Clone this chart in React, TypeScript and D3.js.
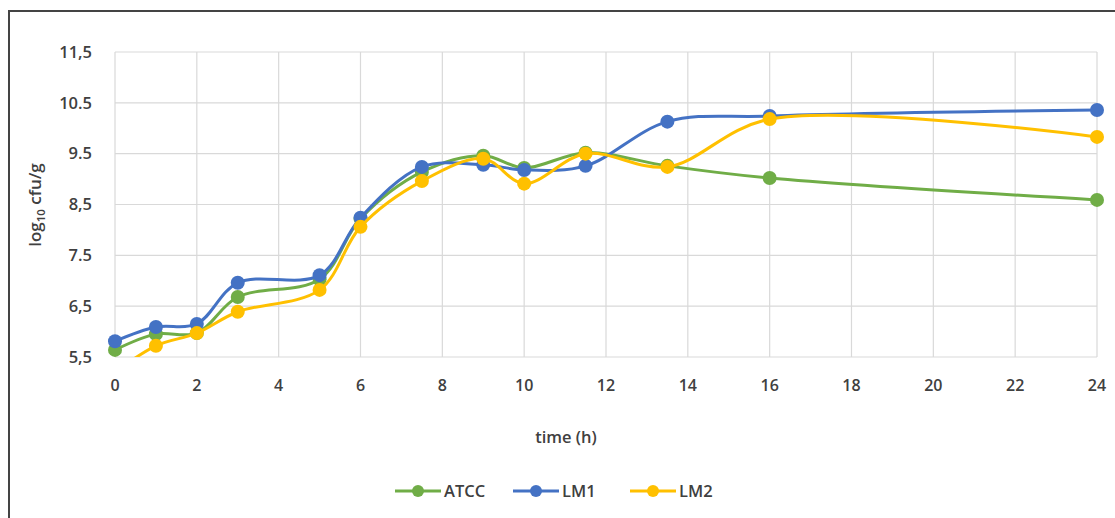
import React from "react";
import * as d3 from "d3";

const times = [0, 1, 2, 3, 5, 6, 7.5, 9, 10, 11.5, 13.5, 16, 24];
const atcc = [5.64, 5.95, 5.97, 6.68, 7.03, 8.22, 9.14, 9.46, 9.22, 9.52, 9.26, 9.02, 8.59];
const lm1 = [5.81, 6.09, 6.15, 6.96, 7.11, 8.24, 9.24, 9.28, 9.18, 9.26, 10.13, 10.24, 10.36];
const lm2 = [5.2, 5.72, 5.97, 6.39, 6.82, 8.06, 8.96, 9.4, 8.91, 9.5, 9.24, 10.18, 9.83];
const xTicks = [0, 2, 4, 6, 8, 10, 12, 14, 16, 18, 20, 22, 24];
const yTicks = [5.5, 6.5, 7.5, 8.5, 9.5, 10.5, 11.5];
const yTickLabels = ["5,5", "6,5", "7.5", "8,5", "9.5", "10.5", "11,5"];
const seriesNames = ["ATCC", "LM1", "LM2"];
const seriesColors = ["#70AD47", "#4472C4", "#FFC000"];
const seriesData = [atcc, lm1, lm2];

export default function App() {
  const W = 1115, H = 518;
  const x = d3.scaleLinear().domain([0, 24]).range([115, 1097]);
  const y = d3.scaleLinear().domain([5.5, 11.5]).range([357, 52]);
  const line = d3
    .line<[number, number]>()
    .x((d) => x(d[0]))
    .y((d) => y(d[1]))
    .curve(d3.curveCatmullRom.alpha(0.5));
  const font = "'Open Sans', sans-serif";
  const textColor = "#404040";
  const fw = 600;
  const legendX = [395, 513, 630];
  return (
    <svg width={W} height={H} style={{ position: "absolute", left: 0, top: 0, background: "#fff" }}>
      <defs>
        <clipPath id="plotclip">
          <rect x={x(0) - 10} y={y(11.5) - 10} width={x(24) - x(0) + 20} height={y(5.5) - y(11.5) + 10} />
        </clipPath>
      </defs>
      <rect x={0} y={0} width={W} height={H} fill="#fff" />
      <line x1={9} y1={11} x2={W} y2={11} stroke="#444" strokeWidth={2} />
      <line x1={9} y1={10} x2={9} y2={H} stroke="#444" strokeWidth={2} />
      {yTicks.map((t) => (
        <line key={"gy" + t} x1={x(0)} x2={x(24)} y1={y(t)} y2={y(t)} stroke="#d9d9d9" strokeWidth={1.2} />
      ))}
      {xTicks.map((t) => (
        <line key={"gx" + t} x1={x(t)} x2={x(t)} y1={y(11.5)} y2={y(5.5)} stroke="#d9d9d9" strokeWidth={1.2} />
      ))}
      {yTicks.map((t, i) => (
        <text key={"ty" + t} x={92} y={y(t)} dy="0.35em" textAnchor="end" fontFamily={font} fontWeight={fw} fontSize={16.5} fill={textColor}>
          {yTickLabels[i]}
        </text>
      ))}
      {xTicks.map((t) => (
        <text key={"tx" + t} x={x(t)} y={385} dy="0.35em" textAnchor="middle" fontFamily={font} fontWeight={fw} fontSize={16} fill={textColor}>
          {t}
        </text>
      ))}
      <text x={566} y={437} dy="0.35em" textAnchor="middle" fontFamily={font} fontWeight={fw} fontSize={16.5} fill={textColor}>
        time (h)
      </text>
      <text transform="translate(35,205) rotate(-90)" textAnchor="middle" dy="0.35em" fontFamily={font} fontWeight={fw} fontSize={17} fill={textColor}>
        log<tspan fontSize={11.5} dy="4">10</tspan>
        <tspan dy="-4"> cfu/g</tspan>
      </text>
      <g clipPath="url(#plotclip)">
        {seriesData.map((vals, si) => {
          const pts = times.map((t, i) => [t, vals[i]] as [number, number]);
          return (
            <g key={seriesNames[si]}>
              <path d={line(pts) || ""} fill="none" stroke={seriesColors[si]} strokeWidth={3} />
              {pts
                .filter((p) => p[1] >= 5.5)
                .map((p, i) => (
                  <circle key={i} cx={x(p[0])} cy={y(p[1])} r={7} fill={seriesColors[si]} />
                ))}
            </g>
          );
        })}
      </g>
      {seriesNames.map((n, i) => (
        <g key={"lg" + n}>
          <line x1={legendX[i]} x2={legendX[i] + 46} y1={491} y2={491} stroke={seriesColors[i]} strokeWidth={3} />
          <circle cx={legendX[i] + 23} cy={491} r={6} fill={seriesColors[i]} />
          <text x={legendX[i] + 49} y={491} dy="0.35em" fontFamily={font} fontWeight={fw} fontSize={16.5} fill={textColor}>
            {n}
          </text>
        </g>
      ))}
    </svg>
  );
}
